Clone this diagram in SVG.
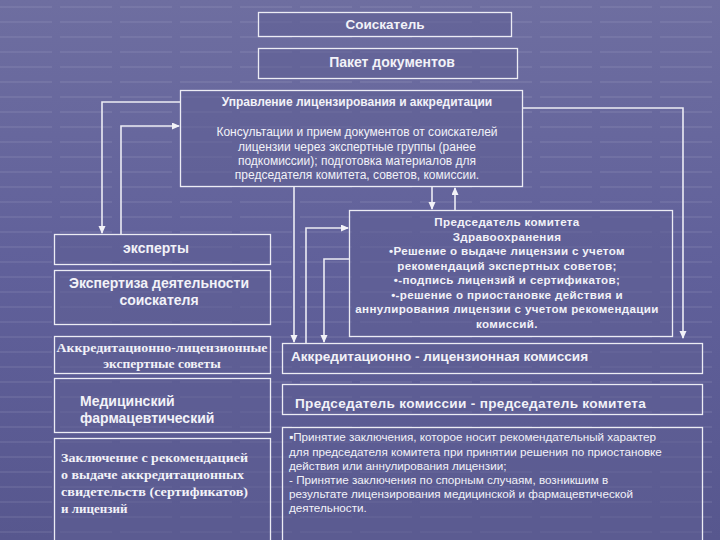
<svg xmlns="http://www.w3.org/2000/svg" width="720" height="540" viewBox="0 0 720 540">
<defs>
<linearGradient id="bg" x1="0" y1="0" x2="0" y2="1">
<stop offset="0" stop-color="#6e6ea0"/>
<stop offset="0.5" stop-color="#60609a"/>
<stop offset="1" stop-color="#57578e"/>
</linearGradient>
<pattern id="stripes" width="60" height="15" patternUnits="userSpaceOnUse">
<rect x="0" y="6" width="52" height="2" fill="#ffffff" opacity="0.07"/>
</pattern>
<marker id="arr" markerUnits="userSpaceOnUse" markerWidth="8" markerHeight="8" refX="7" refY="3.5" orient="auto">
<path d="M0,0 L8,3.5 L0,7 z" fill="#f2f2f8"/>
</marker>
<style>
.box{fill:#5e5e94;fill-opacity:0.55;stroke:#ececf4;stroke-width:1.3}
.c{fill:none;stroke:#ececf4;stroke-width:1.6}
.t{font-family:"Liberation Sans",Arial,sans-serif;fill:#f2f2f8}
.b{font-weight:bold}
.s{font-family:"Liberation Serif","Times New Roman",serif;fill:#f2f2f8;font-weight:bold}
.m{text-anchor:middle}
</style>
</defs>
<rect width="720" height="540" fill="url(#bg)"/>
<rect width="720" height="540" fill="url(#stripes)"/>

<g id="soiskatel">
<rect class="box" x="258.5" y="12.5" width="253" height="24"/>
<text class="t b m" x="385" y="29" font-size="13.5">Соискатель</text>
</g>
<g id="paket">
<rect class="box" x="258.5" y="48.5" width="259" height="30"/>
<text class="t b m" x="392" y="67" font-size="14">Пакет документов</text>
</g>
<g id="upravlenie">
<rect class="box" x="180.5" y="90.5" width="342" height="96"/>
<text class="t b m" x="357" y="106" font-size="12">Управление лицензирования и аккредитации</text>
<text class="t m" font-size="12"><tspan x="357" y="136">Консультации и прием документов от соискателей</tspan><tspan x="357" y="150.5">лицензии через экспертные группы (ранее</tspan><tspan x="357" y="164.5">подкомиссии); подготовка материалов для</tspan><tspan x="357" y="178.5">председателя комитета, советов, комиссии.</tspan></text>
</g>
<g id="predsedatel">
<rect class="box" x="349.5" y="210.5" width="323" height="126"/>
<text class="t b m" font-size="11.6" letter-spacing="0.35"><tspan x="507" y="226">Председатель комитета</tspan><tspan x="507" y="240.5">Здравоохранения</tspan><tspan x="507" y="255">•Решение о выдаче лицензии с учетом</tspan><tspan x="507" y="269.5">рекомендаций экспертных советов;</tspan><tspan x="507" y="284">•-подпись лицензий и сертификатов;</tspan><tspan x="507" y="298.5">•-решение о приостановке действия и</tspan><tspan x="507" y="313">аннулирования лицензии с учетом рекомендации</tspan><tspan x="507" y="327.5">комиссий.</tspan></text>
</g>
<g id="eksperty">
<rect class="box" x="54.5" y="234.5" width="216" height="30"/>
<text class="t b m" x="156" y="253" font-size="14">эксперты</text>
</g>
<g id="ekspertiza">
<rect class="box" x="54.5" y="270.5" width="216" height="54"/>
<text class="t b m" font-size="14"><tspan x="159" y="288">Экспертиза деятельности</tspan><tspan x="159" y="304.5">соискателя</tspan></text>
</g>
<g id="sovety">
<rect class="box" x="54.5" y="336.5" width="216" height="37"/>
<text class="s m" font-size="13.5"><tspan x="162" y="351.5" textLength="211" lengthAdjust="spacingAndGlyphs">Аккредитационно-лицензионные</tspan><tspan x="162" y="367.5">экспертные советы</tspan></text>
</g>
<g id="medicinskiy">
<rect class="box" x="54.5" y="378.5" width="216" height="54"/>
<text class="t b" font-size="14"><tspan x="80" y="406">Медицинский</tspan><tspan x="80" y="423">фармацевтический</tspan></text>
</g>
<g id="zaklyuchenie">
<rect class="box" x="54.5" y="438.5" width="216" height="110"/>
<text class="s" font-size="13"><tspan x="61" y="461.5" textLength="187" lengthAdjust="spacingAndGlyphs">Заключение с рекомендацией</tspan><tspan x="61" y="479" textLength="183" lengthAdjust="spacingAndGlyphs">о выдаче аккредитационных</tspan><tspan x="61" y="496" textLength="187" lengthAdjust="spacingAndGlyphs">свидетельств (сертификатов)</tspan><tspan x="61" y="512.5">и лицензий</tspan></text>
</g>
<g id="komissiya">
<rect class="box" x="282.5" y="343.5" width="420" height="30"/>
<text class="t b" x="291" y="360.5" font-size="13.6">Аккредитационно - лицензионная комиссия</text>
</g>
<g id="predsedatel-komissii">
<rect class="box" x="282.5" y="384.5" width="420" height="30"/>
<text class="t b" x="295" y="407.5" font-size="13.6" letter-spacing="0.3">Председатель комиссии - председатель комитета</text>
</g>
<g id="prinyatie">
<rect class="box" x="282.5" y="427.5" width="420" height="120"/>
<text class="t" font-size="11.7"><tspan x="289" y="441">▪Принятие заключения, которое носит рекомендательный характер</tspan><tspan x="289" y="455.5">для председателя комитета при принятии решения по приостановке</tspan><tspan x="289" y="469.5">действия или аннулирования лицензии;</tspan><tspan x="289" y="483.5">- Принятие заключения по спорным случаям, возникшим в</tspan><tspan x="289" y="498">результате лицензирования медицинской и фармацевтической</tspan><tspan x="289" y="512">деятельности.</tspan></text>
</g>

<g id="connectors">
<path class="c" d="M180,102 H102 V233" marker-end="url(#arr)"/>
<path class="c" d="M121,234 V126 H179" marker-end="url(#arr)"/>
<path class="c" d="M294,187 V342" marker-end="url(#arr)"/>
<path class="c" d="M306,343 V228 H348" marker-end="url(#arr)"/>
<path class="c" d="M349,259 H324 V342" marker-end="url(#arr)"/>
<path class="c" d="M432,187 V209" marker-end="url(#arr)"/>
<path class="c" d="M455,210 V188" marker-end="url(#arr)"/>
<path class="c" d="M523,108 H683 V338" marker-end="url(#arr)"/>
</g>
</svg>
